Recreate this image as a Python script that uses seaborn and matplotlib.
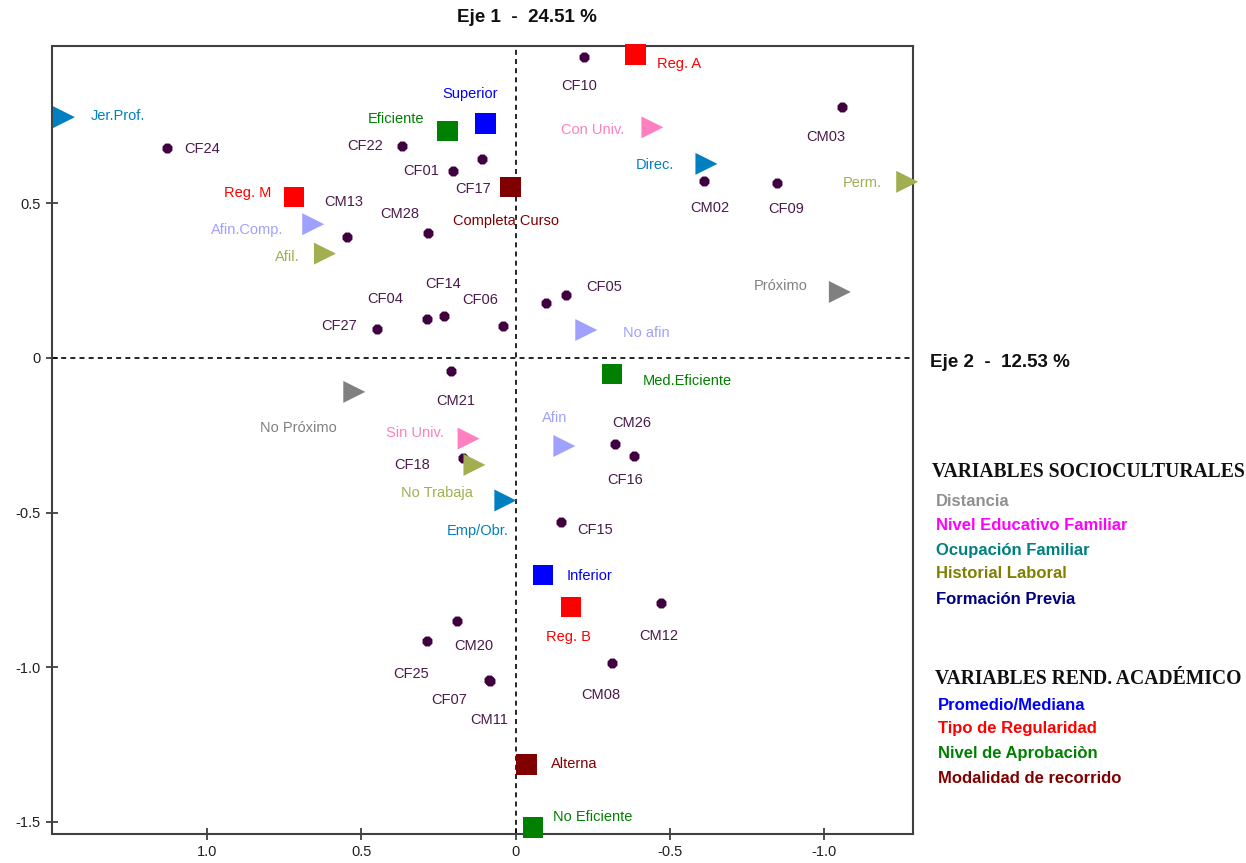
import numpy as np
import pandas as pd
import matplotlib
matplotlib.use("Agg")
import matplotlib.pyplot as plt
import seaborn as sns

# ---- individuos (puntos) ----
ind_names = ["CF10", "CM03", "CF24", "CF22", "CF01", "CF17", "CM02", "CF09", "CM13", "CM28",
             "CF14", "CF04", "CF27", "CF06", "CF05", "", "CM21", "CF18", "CM26", "CF16",
             "CF15", "CM12", "CM08", "CM20", "CF25", "CF07", "CM11"]
ind_x = [-0.222, -1.058, 1.127, 0.367, 0.202, 0.107, -0.610, -0.848, 0.544, 0.282,
         0.231, 0.287, 0.449, 0.041, -0.165, -0.098, 0.210, 0.170, -0.321, -0.383,
         -0.146, -0.472, -0.313, 0.188, 0.287, 0.086, 0.084]
ind_y = [0.972, 0.810, 0.678, 0.686, 0.605, 0.643, 0.572, 0.564, 0.391, 0.405,
         0.135, 0.125, 0.092, 0.103, 0.202, 0.178, -0.041, -0.325, -0.279, -0.317,
         -0.530, -0.792, -0.986, -0.852, -0.915, -1.041, -1.043]

# ---- variables socioculturales (triangulos) ----
soc_names = ["Jer.Prof.", "Direc.", "Emp/Obr.", "Con Univ.", "Sin Univ.", "Perm.", "Afil.",
             "No Trabaja", "Próximo", "No Próximo", "Afin.Comp.", "No afin", "Afin"]
soc_group = ["Ocupación Familiar", "Ocupación Familiar", "Ocupación Familiar",
             "Nivel Educativo Familiar", "Nivel Educativo Familiar",
             "Historial Laboral", "Historial Laboral", "Historial Laboral",
             "Distancia", "Distancia",
             "Formación Previa", "Formación Previa", "Formación Previa"]
soc_x = [1.462, -0.618, 0.033, -0.443, 0.152, -1.268, 0.617, 0.133, -1.050, 0.522, 0.655, -0.229, -0.158]
soc_y = [0.778, 0.627, -0.461, 0.745, -0.261, 0.569, 0.337, -0.346, 0.213, -0.110, 0.432, 0.090, -0.285]

# ---- variables rendimiento academico (cuadrados) ----
aca_names = ["Superior", "Inferior", "Reg. A", "Reg. M", "Reg. B", "Eficiente", "Med.Eficiente",
             "No Eficiente", "Completa Curso", "Alterna"]
aca_group = ["Promedio/Mediana", "Promedio/Mediana",
             "Tipo de Regularidad", "Tipo de Regularidad", "Tipo de Regularidad",
             "Nivel de Aprobaciòn", "Nivel de Aprobaciòn", "Nivel de Aprobaciòn",
             "Modalidad de recorrido", "Modalidad de recorrido"]
aca_x = [0.097, -0.088, -0.388, 0.718, -0.179, 0.220, -0.312, -0.056, 0.016, -0.035]
aca_y = [0.757, -0.702, 0.980, 0.520, -0.806, 0.733, -0.052, -1.518, 0.552, -1.314]

x_ticks = [1.0, 0.5, 0.0, -0.5, -1.0]
x_ticklabels = ["1.0", "0.5", "0", "-0.5", "-1.0"]
y_ticks = [0.5, 0.0, -0.5, -1.0, -1.5]
y_ticklabels = ["0.5", "0", "-0.5", "-1.0", "-1.5"]

soc_legend = ["Distancia", "Nivel Educativo Familiar", "Ocupación Familiar",
              "Historial Laboral", "Formación Previa"]
aca_legend = ["Promedio/Mediana", "Tipo de Regularidad", "Nivel de Aprobaciòn",
              "Modalidad de recorrido"]

# colores
marker_colors = {
    "Distancia": "#808080",
    "Nivel Educativo Familiar": "#FF80C0",
    "Ocupación Familiar": "#0080C0",
    "Historial Laboral": "#A2AE50",
    "Formación Previa": "#A0A0FF",
    "Promedio/Mediana": "#0000FF",
    "Tipo de Regularidad": "#FF0000",
    "Nivel de Aprobaciòn": "#008000",
    "Modalidad de recorrido": "#800000",
}
legend_colors = {
    "Distancia": "#909090",
    "Nivel Educativo Familiar": "#FF00FF",
    "Ocupación Familiar": "#008080",
    "Historial Laboral": "#808000",
    "Formación Previa": "#000080",
    "Promedio/Mediana": "#0000FF",
    "Tipo de Regularidad": "#FF0000",
    "Nivel de Aprobaciòn": "#008000",
    "Modalidad de recorrido": "#800000",
}
dot_color = "#400040"

# desplazamiento de etiquetas (pixeles)
label_offsets = {
    "CF10": (-5, -29), "CM03": (-17, -30), "CF24": (35, -1), "CF22": (-37, 0),
    "CF01": (-32, 0), "CF17": (-9, -30), "CM02": (6, -27), "CF09": (9, -26),
    "CM13": (-4, 35), "CM28": (-29, 19), "CF14": (-1, 32), "CF04": (-42, 20),
    "CF27": (-38, 3), "CF06": (-23, 26), "CF05": (38, 8), "CM21": (5, -30),
    "CF18": (-51, -7), "CM26": (17, 21), "CF16": (-9, -24), "CF15": (35, -8),
    "CM12": (-3, -33), "CM08": (-11, -32), "CM20": (16, -25), "CF25": (-16, -33),
    "CF07": (-40, -20), "CM11": (0, -39),
    "Jer.Prof.": (54, 1), "Con Univ.": (-60, -3), "Direc.": (-51, -1),
    "Perm.": (-45, -1), "Afin.Comp.": (-66, -6), "Afil.": (-38, -3),
    "Próximo": (-59, 6), "No afin": (60, -3), "No Próximo": (-56, -36),
    "Sin Univ.": (-54, 6), "No Trabaja": (-38, -28), "Emp/Obr.": (-28, -31),
    "Afin": (-10, 28),
    "Reg. A": (44, -9), "Superior": (-15, 30), "Eficiente": (-52, 12),
    "Reg. M": (-46, 4), "Completa Curso": (-5, -34), "Med.Eficiente": (75, -7),
    "Inferior": (47, -1), "Reg. B": (-2, -30), "Alterna": (48, 0),
    "No Eficiente": (60, 11),
}

ind_df = pd.DataFrame({"x": ind_x, "y": ind_y, "name": ind_names})
soc_df = pd.DataFrame({"x": soc_x, "y": soc_y, "name": soc_names, "grupo": soc_group})
aca_df = pd.DataFrame({"x": aca_x, "y": aca_y, "name": aca_names, "grupo": aca_group})

sns.set_style("white")
plt.rcParams["font.family"] = ["Liberation Sans", "DejaVu Sans"]

fig = plt.figure(figsize=(12.46, 8.63), dpi=100)
ax = fig.add_axes([52 / 1246, 1 - 834 / 863, 861 / 1246, 788 / 863])

ax.axhline(0, color="black", lw=1.2, ls=(0, (3, 2.5)), zorder=1)
ax.axvline(0, color="black", lw=1.2, ls=(0, (3, 2.5)), zorder=1)

sns.scatterplot(data=ind_df, x="x", y="y", color=dot_color, marker="8", s=60,
                linewidth=0, legend=False, ax=ax, zorder=3)
sns.scatterplot(data=soc_df, x="x", y="y", hue="grupo", palette=marker_colors, marker=">",
                s=250, linewidth=0, legend=False, ax=ax, zorder=4, clip_on=False)
sns.scatterplot(data=aca_df, x="x", y="y", hue="grupo", palette=marker_colors, marker="s",
                s=215, linewidth=0, legend=False, ax=ax, zorder=5, clip_on=False)

for _, r in ind_df.iterrows():
    if r["name"]:
        ax.annotate(r["name"], (r["x"], r["y"]), xytext=label_offsets[r["name"]],
                    textcoords="offset pixels", ha="center", va="center",
                    fontsize=10.5, color="#4a1a4a", annotation_clip=False)
for df in (soc_df, aca_df):
    for _, r in df.iterrows():
        ax.annotate(r["name"], (r["x"], r["y"]), xytext=label_offsets[r["name"]],
                    textcoords="offset pixels", ha="center", va="center",
                    fontsize=10.5, color=marker_colors[r["grupo"]], annotation_clip=False)

ax.set_xlim(1.5006, -1.2868)
ax.set_ylim(-1.539, 1.008)
ax.set_xticks(x_ticks)
ax.set_xticklabels(x_ticklabels)
ax.set_yticks(y_ticks)
ax.set_yticklabels(y_ticklabels)
ax.tick_params(axis="both", direction="inout", length=8.5, width=1.2, color="#303030",
               labelsize=10.5, labelcolor="#202020", pad=4,
               bottom=True, left=True, top=False, right=False)
ax.set_xlabel("")
ax.set_ylabel("")
for sp in ax.spines.values():
    sp.set_color("#404040")
    sp.set_linewidth(1.5)

title_font = ["Liberation Sans Narrow", "Liberation Sans", "DejaVu Sans"]
fig.text(457 / 1246, 1 - 18 / 863, "Eje 1  -  24.51 %", fontsize=13.5, fontweight="bold",
         family=title_font, ha="left", va="center", color="#101010")
fig.text(930 / 1246, 1 - 362 / 863, "Eje 2  -  12.53 %", fontsize=13.5, fontweight="bold",
         family=title_font, ha="left", va="center", color="#101010")

# leyenda en texto
serif = ["Liberation Serif", "DejaVu Serif"]
fig.text(932 / 1246, 1 - 472 / 863, "VARIABLES SOCIOCULTURALES", family=serif,
         fontsize=14.1, fontweight="bold", ha="left", va="center", color="#101010")
soc_leg_y = [501, 525, 550, 574, 600]
for name, yy in zip(soc_legend, soc_leg_y):
    fig.text(936 / 1246, 1 - yy / 863, name, fontsize=12, fontweight="bold",
             ha="left", va="center", color=legend_colors[name])
fig.text(935 / 1246, 1 - 679 / 863, "VARIABLES REND. ACADÉMICO", family=serif,
         fontsize=14.1, fontweight="bold", ha="left", va="center", color="#101010")
aca_leg_y = [705, 728, 753, 778]
for name, yy in zip(aca_legend, aca_leg_y):
    fig.text(938 / 1246, 1 - yy / 863, name, fontsize=12, fontweight="bold",
             ha="left", va="center", color=legend_colors[name])

fig.savefig("out.png", dpi=100)
plt.close(fig)
